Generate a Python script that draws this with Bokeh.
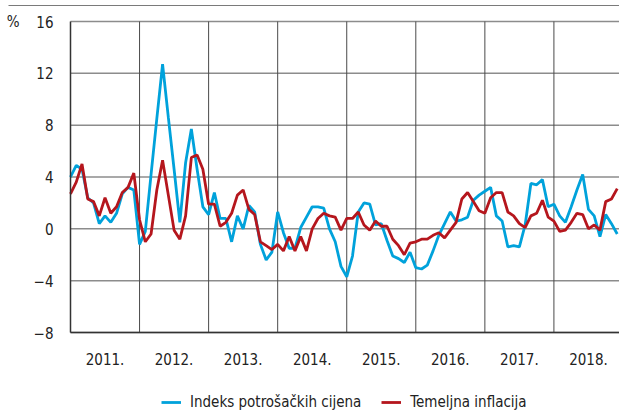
from bokeh.plotting import figure
from bokeh.models import FixedTicker, Legend, LegendItem, Range1d, LinearAxis
from bokeh.embed import file_html
from bokeh.resources import INLINE

years = [2011, 2012, 2013, 2014, 2015, 2016, 2017, 2018]
year_labels = ["2011.", "2012.", "2013.", "2014.", "2015.", "2016.", "2017.", "2018."]
y_ticks = [-8, -4, 0, 4, 8, 12, 16]
y_labels = ["\u22128", "\u22124", "0", "4", "8", "12", "16"]

cpi = [4.0, 4.9, 4.6, 2.4, 2.0, 0.4, 1.0, 0.5, 1.2, 2.7, 3.2, 3.0,
       -1.2, -0.2, 4.2, 8.5, 12.7, 8.6, 4.6, 0.5, 5.1, 7.7, 4.6, 1.7,
       1.1, 2.8, 0.8, 0.8, -1.0, 1.0, 0.0, 1.8, 1.3, -1.2, -2.4, -1.8,
       1.3, -0.3, -1.5, -1.5, 0.1, 0.9, 1.7, 1.7, 1.6, 0.0, -1.0, -2.9,
       -3.7, -2.1, 1.3, 2.0, 1.9, 0.3, 0.4, -0.9, -2.1, -2.3, -2.6, -1.8,
       -3.0, -3.1, -2.8, -1.7, -0.5, 0.4, 1.3, 0.6, 0.7, 0.9, 2.2, 2.6,
       2.9, 3.2, 1.0, 0.6, -1.4, -1.3, -1.4, 0.3, 3.5, 3.4, 3.8, 1.7,
       1.9, 1.0, 0.5, 1.7, 3.0, 4.2, 1.5, 1.0, -0.6, 1.1, 0.4, -0.4]

core = [2.7, 3.6, 5.0, 2.3, 2.1, 1.0, 2.4, 1.2, 1.7, 2.8, 3.2, 4.3,
        0.7, -1.0, -0.4, 3.0, 5.3, 2.6, -0.1, -0.8, 1.0, 5.5, 5.7, 4.6,
        1.9, 1.9, 0.2, 0.5, 1.2, 2.6, 3.0, 1.5, 1.1, -1.0, -1.3, -1.6,
        -1.2, -1.7, -0.6, -1.7, -0.6, -1.7, 0.0, 0.8, 1.2, 1.0, 0.9, -0.1,
        0.8, 0.8, 1.3, 0.3, -0.1, 0.6, 0.2, 0.2, -0.8, -1.3, -2.0, -1.1,
        -1.0, -0.8, -0.8, -0.5, -0.3, -0.7, -0.1, 0.5, 2.3, 2.8, 2.1, 1.4,
        1.2, 2.4, 2.8, 2.8, 1.3, 1.0, 0.4, 0.1, 1.0, 1.2, 2.2, 0.9,
        0.6, -0.2, -0.1, 0.5, 1.2, 1.1, 0.0, 0.3, -0.1, 2.1, 2.3, 3.1]

t = [years[0] + i / 12 for i in range(len(cpi))]

FONT = "DejaVu Sans Condensed"
FS = "15px"
TXT = "#222222"

W, H = 619, 412
PX_YEAR = 69.06            # pixels per year
PX_UNIT = 311 / 24         # pixels per percentage point
LEFT, TOP, BOTTOM = 70, 21, 80
x0 = years[0] - LEFT / PX_YEAR
x1 = years[0] + (W - LEFT) / PX_YEAR
ymin, ymax = y_ticks[0], y_ticks[-1]
y0 = ymin - BOTTOM / PX_UNIT
y1 = ymax + TOP / PX_UNIT

p = figure(width=W, height=H, output_backend="svg", toolbar_location=None,
           x_range=Range1d(x0, x1), y_range=Range1d(y0, y1),
           min_border_left=0, min_border_right=0, min_border_top=0, min_border_bottom=0)
p.outline_line_color = None
p.background_fill_color = "white"
p.border_fill_color = "white"
p.xgrid.visible = False
p.ygrid.visible = False

# top rule
rule_y = ymax + (TOP - 5) / PX_UNIT
p.segment(x0=[years[0] - 62 / PX_YEAR], y0=[rule_y], x1=[x1], y1=[rule_y],
          line_color="#7a7a7a", line_width=1.2)

# horizontal grid lines
p.segment(x0=[years[0]] * len(y_ticks), y0=y_ticks, x1=[x1] * len(y_ticks), y1=y_ticks,
          line_color="#8c8c8c", line_width=1.5)
# year separators
p.segment(x0=years[1:], y0=[ymin] * 7, x1=years[1:], y1=[ymax] * 7,
          line_color="#4a4a4a", line_width=1)

mids = [y + 0.5 for y in years]
xa = p.xaxis[0]
xa.fixed_location = ymin
xa.bounds = (years[0], x1)
xa.ticker = FixedTicker(ticks=mids)
xa.major_label_overrides = {m: l for m, l in zip(mids, year_labels)}
xa.major_tick_line_color = None
xa.minor_tick_line_color = None
xa.axis_line_color = "#333333"
xa.axis_line_width = 1.5
xa.major_label_standoff = 14
xa.major_label_text_font = FONT
xa.major_label_text_font_size = FS
xa.major_label_text_color = TXT

ya = p.yaxis[0]
ya.fixed_location = years[0]
ya.bounds = (ymin, ymax)
ya.ticker = FixedTicker(ticks=y_ticks)
ya.major_label_overrides = {v: l for v, l in zip(y_ticks, y_labels)}
ya.major_tick_line_color = None
ya.minor_tick_line_color = None
ya.axis_line_color = "#333333"
ya.axis_line_width = 1.5
ya.major_label_standoff = 11
ya.major_label_text_font = FONT
ya.major_label_text_font_size = FS
ya.major_label_text_color = TXT

pct_axis = LinearAxis(ticker=FixedTicker(ticks=[ymax]), major_label_overrides={ymax: "%"},
                      fixed_location=years[0],
                      axis_line_color=None, major_tick_line_color=None,
                      minor_tick_line_color=None, major_label_standoff=45,
                      major_label_text_font=FONT, major_label_text_font_size=FS,
                      major_label_text_color=TXT)
p.add_layout(pct_axis, "left")

b = p.line(t, cpi, line_color="#00A2DB", line_width=2.8)
r = p.line(t, core, line_color="#B5161D", line_width=2.8)

legend = Legend(items=[LegendItem(label="Indeks potrošačkih cijena", renderers=[b]),
                       LegendItem(label="Temeljna inflacija", renderers=[r])],
                orientation="horizontal", location=(161, 0),
                label_text_font=FONT, label_text_font_size=FS,
                label_text_color=TXT, glyph_width=20, label_standoff=9,
                spacing=20, padding=0, margin=0, border_line_color=None,
                background_fill_alpha=0)
p.add_layout(legend)

open("out.html", "w").write(file_html(p, INLINE))
